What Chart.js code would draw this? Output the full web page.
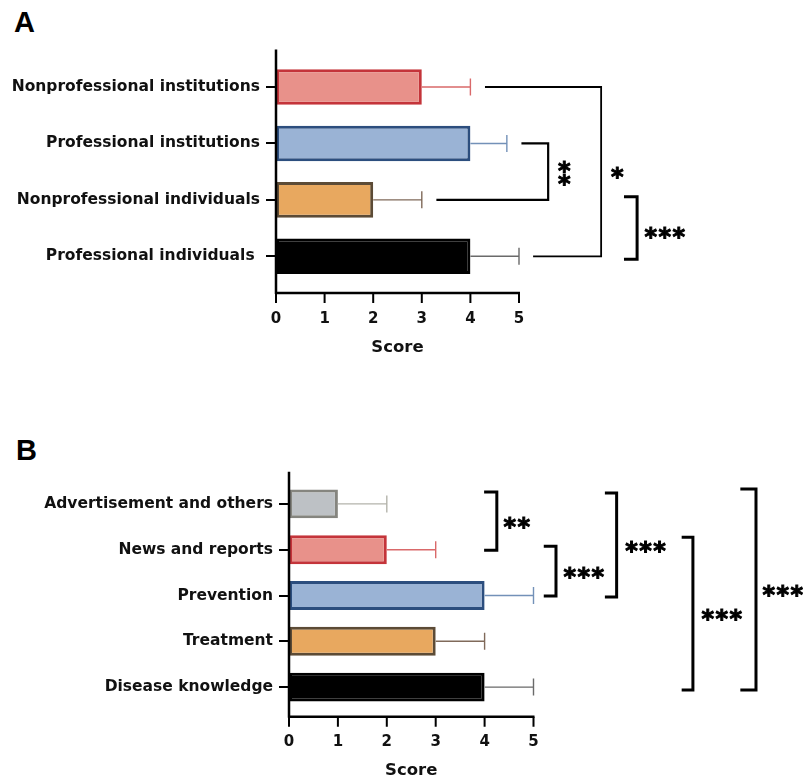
<!DOCTYPE html>
<html>
<head>
<meta charset="utf-8">
<script src="https://cdn.jsdelivr.net/npm/chart.js@4.4.1/dist/chart.umd.min.js"></script>
<style>
  html, body { margin: 0; padding: 0; background: #fff; overflow: hidden; }
  #wrap { position: relative; width: 803px; height: 781px; }
  .panel-letter {
    position: absolute;
    font: bold 29px 'Liberation Sans', Arial, sans-serif;
    line-height: 29px;
    color: #000;
  }
  canvas { position: absolute; left: 0; }
</style>
</head>
<body>
<div id="wrap">
  <div class="panel-letter" style="left:14px; top:8px;">A</div>
  <div class="panel-letter" style="left:16px; top:436px;">B</div>
  <canvas id="chartA" width="803" height="380" style="top:0;"></canvas>
  <canvas id="chartB" width="803" height="401" style="top:380px;"></canvas>
</div>
<script>
// Panel A data
const categoriesA = ['Nonprofessional institutions', 'Professional institutions', 'Nonprofessional individuals', 'Professional individuals '];
const scoresA = [3, 4, 2, 4];
const errorsA = [1, 0.75, 1, 1];
// comparisons: [row, row, label]
const comparisonsA = [[1, 2, '**'], [0, 3, '*'], [2, 3, '***']];

// Panel B data
const categoriesB = ['Advertisement and others', 'News and reports', 'Prevention', 'Treatment', 'Disease knowledge'];
const scoresB = [1, 2, 4, 3, 4];
const errorsB = [1, 1, 1, 1, 1];
const comparisonsB = [[0, 1, '**'], [1, 2, '***'], [0, 2, '***'], [1, 4, '***'], [0, 4, '***']];

const xTicks = [0, 1, 2, 3, 4, 5];

// colours
const RED = { fill: '#e8918a', border: '#c4343a', err: '#d9696a' };
const BLUE = { fill: '#9ab3d5', border: '#2c4e7e', err: '#7391b8' };
const ORANGE = { fill: '#e8a85f', border: '#5c4b36', err: '#806a5a' };
const BLACK = { fill: '#000000', border: '#000000', err: '#6a6a6a' };
const GRAY = { fill: '#bdc1c5', border: '#85857f', err: '#b4b4ac' };

const FONT = "'DejaVu Sans', 'Liberation Sans', sans-serif";
const STAR_SIZE = 24;

/**
 * Axis frame: axis lines a little outside the bar area, x tick marks
 */
const framePlugin = {
    id: 'frame',
    afterDraw(chart, args, opts) {
        const { ctx, chartArea } = chart;
        const xs = chart.scales.x;
        const top = chartArea.top - opts.padTop;
        const bottom = chartArea.bottom + opts.padBottom;
        ctx.save();
        ctx.strokeStyle = '#000';
        ctx.lineWidth = 2.5;
        ctx.beginPath();
        ctx.moveTo(chartArea.left, top);
        ctx.lineTo(chartArea.left, bottom + 1);
        ctx.moveTo(chartArea.left - 1, bottom);
        ctx.lineTo(chartArea.right + 1, bottom);
        ctx.stroke();
        ctx.lineWidth = 2;
        ctx.beginPath();
        xTicks.forEach(v => {
            const px = xs.getPixelForValue(v);
            ctx.moveTo(px, bottom);
            ctx.lineTo(px, bottom + 10);
        });
        ctx.stroke();
        ctx.restore();
    }
};

/**
 * Error bars (upper side only) drawn from the bar end
 */
const errorBarPlugin = {
    id: 'errorBars',
    afterDatasetsDraw(chart, args, opts) {
        const { ctx } = chart;
        const xs = chart.scales.x;
        const ys = chart.scales.y;
        const values = chart.data.datasets[0].data;
        ctx.save();
        ctx.lineWidth = 1.4;
        values.forEach((v, i) => {
            const y = ys.getPixelForValue(i);
            const x0 = xs.getPixelForValue(v);
            const x1 = xs.getPixelForValue(v + opts.errors[i]);
            ctx.strokeStyle = opts.colors[i];
            ctx.beginPath();
            ctx.moveTo(x0, y);
            ctx.lineTo(x1, y);
            ctx.moveTo(x1, y - opts.cap);
            ctx.lineTo(x1, y + opts.cap);
            ctx.stroke();
        });
        ctx.restore();
    }
};

/**
 * Significance brackets with asterisk labels
 */
const bracketPlugin = {
    id: 'brackets',
    afterDraw(chart, args, opts) {
        const { ctx } = chart;
        const xs = chart.scales.x;
        const ys = chart.scales.y;
        ctx.save();
        opts.items.forEach((b, k) => {
            const [a, c, label] = opts.comparisons[k];
            const yTop = ys.getPixelForValue(a) + b.dyTop;
            const yBot = ys.getPixelForValue(c) + b.dyBottom;
            const xv = xs.getPixelForValue(b.x);
            ctx.strokeStyle = '#000';
            ctx.lineWidth = b.lw;
            ctx.lineJoin = 'miter';
            ctx.beginPath();
            ctx.moveTo(xs.getPixelForValue(b.fromTop), yTop);
            ctx.lineTo(xv, yTop);
            ctx.lineTo(xv, yBot);
            ctx.lineTo(xs.getPixelForValue(b.fromBottom), yBot);
            ctx.stroke();

            // asterisks, one glyph at a time so the pitch matches
            ctx.fillStyle = '#000';
            ctx.strokeStyle = '#000';
            ctx.lineWidth = 1;
            ctx.font = 'bold ' + STAR_SIZE + 'px ' + FONT;
            ctx.textAlign = 'center';
            ctx.textBaseline = 'alphabetic';
            const tx = xs.getPixelForValue(b.textX);
            const ty = (yTop + yBot) / 2 + (b.textDy || 0);
            const n = label.length;
            for (let j = 0; j < n; j++) {
                let cx = tx, cy = ty;
                if (b.vertical) {
                    cy = ty + (j - (n - 1) / 2) * 13.5;
                } else {
                    cx = tx + (j - (n - 1) / 2) * 14;
                }
                const by = cy + STAR_SIZE * 0.57;
                ctx.fillText(label[j], cx, by);
                ctx.strokeText(label[j], cx, by);
            }
        });
        ctx.restore();
    }
};

function makeChart(id, cfg) {
    const styles = cfg.styles;
    return new Chart(document.getElementById(id), {
        type: 'bar',
        data: {
            labels: cfg.labels,
            datasets: [{
                data: cfg.values,
                backgroundColor: styles.map(s => s.fill),
                borderColor: styles.map(s => s.border),
                borderWidth: 3,
                borderSkipped: false,
                categoryPercentage: 1,
                barPercentage: 0.63
            }]
        },
        options: {
            indexAxis: 'y',
            responsive: false,
            animation: false,
            events: [],
            layout: { padding: cfg.padding },
            plugins: {
                legend: { display: false },
                tooltip: { enabled: false },
                frame: { padTop: cfg.padTop, padBottom: cfg.padBottom },
                errorBars: { errors: cfg.errors, colors: styles.map(s => s.err), cap: 8.5 },
                brackets: { comparisons: cfg.comparisons, items: cfg.brackets }
            },
            scales: {
                x: {
                    type: 'linear',
                    min: 0,
                    max: 5,
                    afterBuildTicks: s => { s.ticks = xTicks.map(v => ({ value: v })); },
                    ticks: {
                        color: '#111',
                        padding: cfg.xTickPad,
                        font: { family: FONT, size: 15, weight: 'bold' }
                    },
                    grid: { display: false, drawTicks: false },
                    border: { display: false },
                    title: {
                        display: true,
                        text: 'Score',
                        color: '#111',
                        padding: 0,
                        font: { family: FONT, size: 16.5, weight: 'bold', lineHeight: 1 }
                    },
                    afterFit: s => { s.height = cfg.xHeight; }
                },
                y: {
                    ticks: {
                        color: '#111',
                        padding: 6,
                        font: { family: FONT, size: 15.5, weight: 'bold' }
                    },
                    grid: {
                        drawOnChartArea: false,
                        offset: false,
                        tickLength: 10,
                        lineWidth: 2,
                        color: '#000'
                    },
                    border: { display: false },
                    afterFit: s => { s.width = cfg.yWidth; }
                }
            }
        },
        plugins: [errorBarPlugin, framePlugin, bracketPlugin]
    });
}

function init() {
    makeChart('chartA', {
        labels: categoriesA,
        values: scoresA,
        errors: errorsA,
        comparisons: comparisonsA,
        styles: [RED, BLUE, ORANGE, BLACK],
        padding: { top: 58.8, right: 284, bottom: 24, left: 0 },
        yWidth: 276,
        xHeight: 71.5,
        xTickPad: 25.5,
        padTop: 9.3,
        padBottom: 8.5,
        brackets: [
            { x: 5.6, fromTop: 5.05, fromBottom: 3.3, dyTop: 0, dyBottom: 0, lw: 2.2, textX: 5.93, vertical: true },
            { x: 6.69, fromTop: 4.3, fromBottom: 5.29, dyTop: 0, dyBottom: 0, lw: 1.8, textX: 7.02 },
            { x: 7.43, fromTop: 7.16, fromBottom: 7.16, dyTop: -3, dyBottom: 3, lw: 3, textX: 8.0, textDy: 3 }
        ]
    });

    makeChart('chartB', {
        labels: categoriesB,
        values: scoresB,
        errors: errorsB,
        comparisons: comparisonsB,
        styles: [GRAY, RED, BLUE, ORANGE, BLACK],
        padding: { top: 101, right: 269.5, bottom: 2, left: 0 },
        yWidth: 289,
        xHeight: 69,
        xTickPad: 22.7,
        padTop: 9.3,
        padBottom: 6.7,
        brackets: [
            { x: 4.25, fromTop: 3.99, fromBottom: 3.99, dyTop: -12, dyBottom: 0.5, lw: 3, textX: 4.66 },
            { x: 5.46, fromTop: 5.21, fromBottom: 5.21, dyTop: -3.5, dyBottom: 0.5, lw: 3, textX: 6.03 },
            { x: 6.70, fromTop: 6.46, fromBottom: 6.46, dyTop: -11, dyBottom: 1.5, lw: 3, textX: 7.29 },
            { x: 8.26, fromTop: 8.03, fromBottom: 8.03, dyTop: -12.5, dyBottom: 3, lw: 3, textX: 8.85 },
            { x: 9.55, fromTop: 9.23, fromBottom: 9.23, dyTop: -15, dyBottom: 3, lw: 3, textX: 10.1 }
        ]
    });
}

if (document.readyState === 'loading') {
    document.addEventListener('DOMContentLoaded', init);
} else {
    init();
}
</script>
</body>
</html>
